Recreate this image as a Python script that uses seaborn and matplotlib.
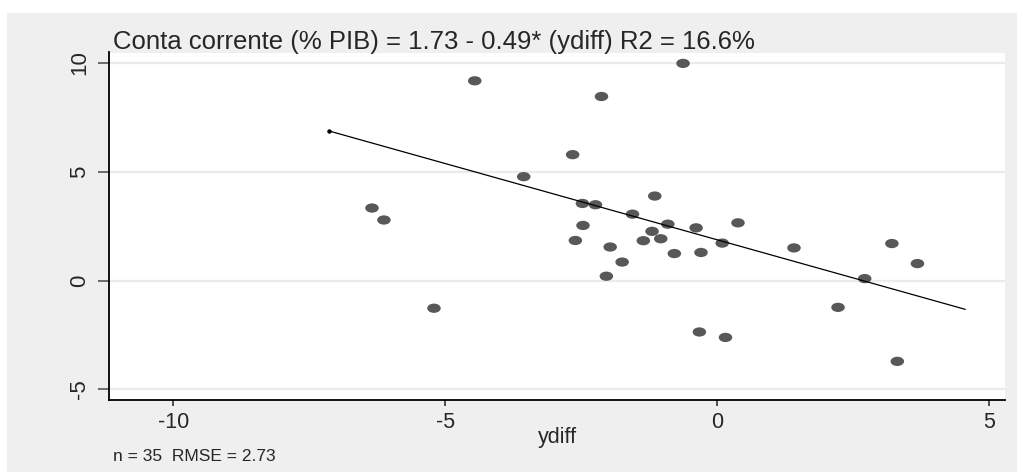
import numpy as np
import pandas as pd
import matplotlib
matplotlib.use("Agg")
import matplotlib.pyplot as plt
import seaborn as sns
from matplotlib.path import Path
from matplotlib.transforms import Affine2D
from matplotlib.patches import Rectangle

# values
ydiff = [-0.63, -4.46, -2.13, -2.66, -3.56, -6.35, -6.13, -1.15, -2.48, -2.24,
         -1.56, -2.47, -0.91, -0.39, 0.38, -1.20, -1.04, -1.36, -2.61, -1.97,
         0.09, -0.79, -0.30, -1.75, -2.04, -5.21, -0.33, 0.15, 1.41, 3.21,
         3.68, 2.71, 2.22, 3.31]
conta = [9.97, 9.17, 8.45, 5.78, 4.77, 3.33, 2.78, 3.88, 3.54, 3.48,
         3.05, 2.53, 2.59, 2.42, 2.65, 2.26, 1.92, 1.83, 1.84, 1.54,
         1.72, 1.24, 1.29, 0.85, 0.20, -1.27, -2.36, -2.61, 1.50, 1.70,
         0.78, 0.09, -1.23, -3.71]

# fitted line as drawn in the picture
fit_range = [-7.14, 4.56]
fit_intercept = 1.87
fit_slope = -0.70

x_ticks = [-10, -5, 0, 5]
y_ticks = [-5, 0, 5, 10]

title = "Conta corrente (% PIB) = 1.73 - 0.49* (ydiff) R2 = 16.6%"
note = "n = 35  RMSE = 2.73"

df = pd.DataFrame({"ydiff": ydiff, "conta": conta})
fit_x = np.array(fit_range)
fit_y = fit_intercept + fit_slope * fit_x

sns.set_theme(style="white")
plt.rcParams["font.family"] = ["Liberation Sans", "DejaVu Sans"]

W, H = 1017, 472
fig = plt.figure(figsize=(W / 100, H / 100), dpi=100)
fig.patch.set_facecolor("white")
# grey graph region (Stata s2color-like)
fig.add_artist(Rectangle((7 / W, 0), 1 - 7 / W, (H - 12.7) / H,
                         transform=fig.transFigure, facecolor="#efefef",
                         edgecolor="none", zorder=0))

ax = fig.add_axes([109.3 / W, (H - 399.5) / H, (1005 - 109.3) / W, (399.5 - 52.5) / H])
ax.set_facecolor("white")

# horizontally stretched dots like the reference
ellipse = Path.unit_circle().transformed(Affine2D().scale(1.46, 1.0))
sns.scatterplot(data=df, x="ydiff", y="conta", ax=ax, marker=ellipse, s=95,
                color="#585858", edgecolor="none", linewidth=0, zorder=3)
ax.plot(fit_x, fit_y, color="black", lw=0.9, zorder=4,
        marker="o", markersize=2.2, markevery=[0])

ax.set_xlim(-11.18, 5.29)
ax.set_ylim(-5.46, 10.47)
ax.set_xticks(x_ticks)
ax.set_yticks(y_ticks)
ax.set_xticklabels([str(t) for t in x_ticks], fontsize=15.5)
ax.set_yticklabels([str(t) for t in y_ticks], fontsize=16, rotation=90, va="center")
ax.yaxis.grid(True, color="#ebebeb", lw=1.6)
ax.xaxis.grid(False)
ax.set_axisbelow(True)

for side in ["top", "right"]:
    ax.spines[side].set_visible(False)
for side in ["left", "bottom"]:
    ax.spines[side].set_color("black")
    ax.spines[side].set_linewidth(1.3)

ax.tick_params(axis="x", direction="out", length=4.3, width=1.2, color="#333333", pad=5, bottom=True)
ax.tick_params(axis="y", direction="out", length=7.9, width=1.2, color="#555555", pad=6, left=True)

ax.set_ylabel("")
ax.set_xlabel("ydiff", fontsize=15.5, va="center")
ax.xaxis.set_label_coords(0.5, (H - 437 - (H - 399.5)) / 347)

fig.text(113 / W, (H - 41.5) / H, title, fontsize=18.5, ha="left", va="center")
fig.text(113 / W, (H - 456.5) / H, note, fontsize=12.5, ha="left", va="center")

fig.savefig("out.png", dpi=100)
